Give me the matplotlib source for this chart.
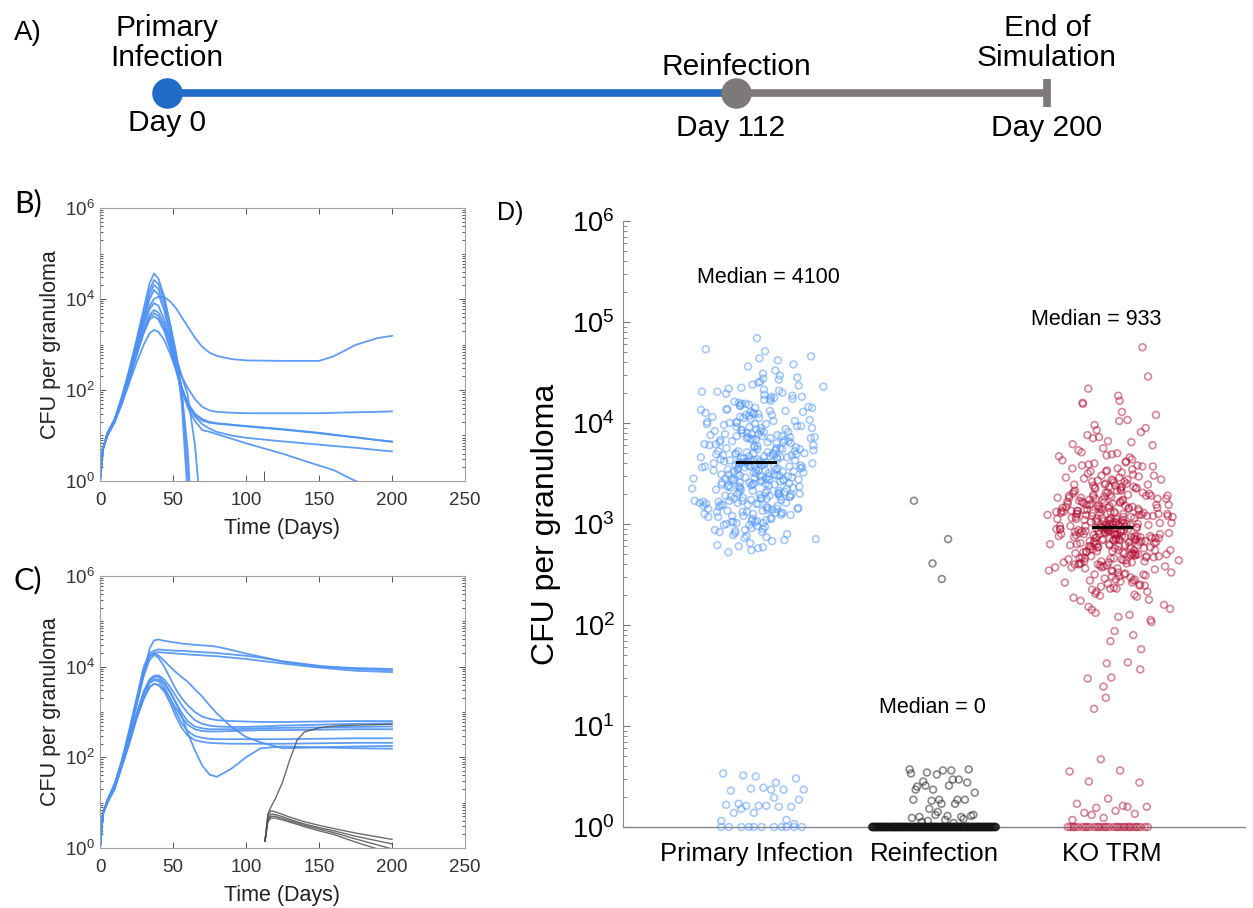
import numpy as np
import matplotlib
matplotlib.use("Agg")
import matplotlib.pyplot as plt
from matplotlib.ticker import FixedLocator, LogLocator, NullFormatter

plt.rcParams["font.family"] = ["Liberation Sans", "DejaVu Sans"]
plt.rcParams["mathtext.default"] = "regular"

# ---------------- panel A: timeline
event_labels = ["Primary\nInfection", "Reinfection", "End of\nSimulation"]
event_days = [0, 112, 200]

# ---------------- panel B: primary infection only (log10 CFU per granuloma)
time_b = [0, 2, 5, 10, 15, 20, 25, 30, 34, 37, 40, 44, 48, 52, 56, 60, 65, 70,
          75, 80, 90, 100, 125, 150, 160, 175, 190, 200]
cfu_b_log = [
    [0, 0.7, 1.05, 1.35, 1.85, 2.45, 3.1, 3.8, 4.35, 4.56, 4.45, 4.05, 3.45, 2.75, 1.7, -0.3,
     -3, -3, -3, -3, -3, -3, -3, -3, -3, -3, -3, -3],
    [0, 0.7, 1.0, 1.3, 1.8, 2.4, 3.05, 3.7, 4.2, 4.42, 4.33, 3.98, 3.45, 2.85, 2.0, 0.25, -2.5,
     -3, -3, -3, -3, -3, -3, -3, -3, -3, -3, -3],
    [0, 0.7, 1.05, 1.35, 1.85, 2.4, 3.0, 3.6, 4.1, 4.31, 4.22, 3.85, 3.3, 2.75, 2.3, 2.05, 1.8,
     1.63, 1.55, 1.52, 1.5, 1.49, 1.49, 1.49, 1.5, 1.51, 1.52, 1.53],
    [0, 0.7, 1.05, 1.35, 1.8, 2.35, 2.95, 3.55, 4.0, 4.2, 4.1, 3.75, 3.2, 2.6, 2.05, 1.7, 1.45,
     1.33, 1.28, 1.26, 1.23, 1.2, 1.13, 1.05, 1.01, 0.96, 0.9, 0.87],
    [0, 0.7, 1.05, 1.35, 1.8, 2.35, 2.95, 3.5, 3.85, 4.0, 4.05, 4.04, 3.95, 3.8, 3.6, 3.4, 3.15,
     2.95, 2.82, 2.75, 2.68, 2.65, 2.64, 2.64, 2.74, 2.99, 3.14, 3.19],
    [0, 0.7, 1.0, 1.3, 1.75, 2.3, 2.85, 3.4, 3.78, 3.91, 3.85, 3.55, 3.1, 2.55, 2.05, 1.72, 1.48,
     1.36, 1.3, 1.27, 1.24, 1.21, 1.14, 1.06, 1.02, 0.96, 0.9, 0.86],
    [0, 0.7, 1.0, 1.3, 1.75, 2.25, 2.8, 3.3, 3.65, 3.76, 3.7, 3.45, 3.05, 2.65, 2.3, 1.9, 0.8,
     -1.0, -3, -3, -3, -3, -3, -3, -3, -3, -3, -3],
    [0, 0.7, 1.0, 1.3, 1.75, 2.25, 2.8, 3.3, 3.6, 3.69, 3.62, 3.35, 2.95, 2.5, 2.05, 1.7, 1.42,
     1.25, 1.15, 1.08, 1.0, 0.95, 0.87, 0.8, 0.77, 0.73, 0.68, 0.65],
    [0, 0.7, 1.0, 1.3, 1.7, 2.2, 2.75, 3.25, 3.55, 3.62, 3.55, 3.3, 2.9, 2.45, 2.0, 1.62, 1.32,
     1.12, 1.08, 1.03, 0.93, 0.83, 0.6, 0.34, 0.24, 0.0, -0.15, -0.26],
    [0, 0.7, 1.0, 1.3, 1.7, 2.15, 2.6, 3.0, 3.25, 3.32, 3.28, 3.1, 2.8, 2.45, 1.95, 0.7, -2,
     -3, -3, -3, -3, -3, -3, -3, -3, -3, -3, -3],
]

# ---------------- panel C: primary infection + reinfection at day 112
time_c = [0, 2, 5, 10, 15, 20, 25, 30, 34, 37, 40, 44, 48, 52, 56, 60, 65, 70, 75, 80,
          90, 100, 110, 125, 150, 175, 200]
cfu_c_log = [
    [0, 0.75, 1.05, 1.4, 1.9, 2.5, 3.15, 3.85, 4.4, 4.58, 4.6, 4.57, 4.55, 4.53, 4.51, 4.5,
     4.48, 4.47, 4.46, 4.44, 4.37, 4.29, 4.22, 4.11, 4.0, 3.97, 3.95],
    [0, 0.75, 1.05, 1.4, 1.95, 2.6, 3.3, 4.0, 4.3, 4.35, 4.38, 4.37, 4.36, 4.35, 4.35, 4.34,
     4.33, 4.32, 4.31, 4.3, 4.27, 4.24, 4.2, 4.12, 4.02, 3.95, 3.92],
    [0, 0.75, 1.05, 1.4, 1.9, 2.55, 3.25, 3.95, 4.25, 4.3, 4.32, 4.31, 4.3, 4.29, 4.28, 4.27,
     4.26, 4.25, 4.24, 4.23, 4.2, 4.17, 4.13, 4.07, 3.98, 3.91, 3.88],
    [0, 0.75, 1.05, 1.4, 1.9, 2.5, 3.15, 3.8, 4.15, 4.26, 4.2, 4.0, 3.75, 3.5, 3.3, 3.15,
     3.0, 2.9, 2.85, 2.82, 2.8, 2.79, 2.78, 2.78, 2.79, 2.8, 2.8],
    [0, 0.75, 1.0, 1.35, 1.85, 2.4, 2.95, 3.45, 3.72, 3.8, 3.81, 3.72, 3.55, 3.35, 3.15, 2.98,
     2.82, 2.74, 2.7, 2.68, 2.67, 2.67, 2.68, 2.7, 2.72, 2.74, 2.75],
    [0, 0.75, 1.0, 1.35, 1.85, 2.35, 2.9, 3.4, 3.65, 3.72, 3.72, 3.62, 3.43, 3.2, 2.98, 2.8,
     2.68, 2.64, 2.62, 2.62, 2.62, 2.63, 2.64, 2.65, 2.66, 2.67, 2.68],
    [0, 0.75, 1.0, 1.3, 1.8, 2.3, 2.85, 3.3, 3.55, 3.62, 3.6, 3.5, 3.3, 3.08, 2.88, 2.72,
     2.62, 2.58, 2.57, 2.57, 2.58, 2.59, 2.6, 2.6, 2.61, 2.62, 2.62],
    [0, 0.75, 1.0, 1.35, 1.85, 2.35, 2.9, 3.4, 3.64, 3.7, 3.68, 3.55, 3.3, 3.0, 2.75, 2.58,
     2.47, 2.43, 2.41, 2.4, 2.4, 2.4, 2.4, 2.4, 2.41, 2.42, 2.42],
    [0, 0.75, 1.0, 1.3, 1.8, 2.3, 2.85, 3.3, 3.55, 3.62, 3.6, 3.45, 3.2, 2.9, 2.65, 2.48,
     2.38, 2.34, 2.32, 2.31, 2.3, 2.3, 2.3, 2.3, 2.31, 2.32, 2.32],
    [0, 0.75, 1.05, 1.4, 1.9, 2.55, 3.2, 3.9, 4.22, 4.3, 4.25, 4.13, 4.0, 3.88, 3.77, 3.67,
     3.5, 3.34, 3.15, 2.97, 2.67, 2.45, 2.33, 2.2, 2.22, 2.24, 2.25],
    [0, 0.75, 1.0, 1.35, 1.85, 2.4, 2.95, 3.45, 3.7, 3.77, 3.78, 3.65, 3.45, 3.2, 2.9, 2.55,
     2.15, 1.82, 1.62, 1.57, 1.75, 2.0, 2.2, 2.24, 2.22, 2.2, 2.19],
]
time_reinf = [113, 115, 117, 120, 125, 130, 135, 140, 150, 160, 175, 200]
cfu_reinf_log = [
    [0.15, 0.75, 0.9, 1.08, 1.45, 1.95, 2.38, 2.56, 2.65, 2.69, 2.71, 2.73],
    [0.15, 0.72, 0.82, 0.8, 0.74, 0.68, 0.63, 0.58, 0.5, 0.43, 0.33, 0.19],
    [0.15, 0.65, 0.75, 0.74, 0.69, 0.63, 0.58, 0.53, 0.45, 0.38, 0.26, 0.09],
    [0.15, 0.6, 0.7, 0.7, 0.65, 0.6, 0.55, 0.5, 0.42, 0.34, 0.2, -0.02],
    [0.15, 0.58, 0.66, 0.66, 0.62, 0.57, 0.52, 0.47, 0.38, 0.3, 0.13, -0.12],
]

# ---------------- panel D: CFU per granuloma at end of simulation (log10)
groups = ["Primary Infection", "Reinfection", "KO TRM"]
medians = [4100, 0, 933]

primary_high_log = [
    4.31, 3.72, 3.05, 3.88, 2.91, 3.47, 4.12, 3.26, 3.66, 4.58, 3.38, 3.15,
    3.52, 4.05, 2.84, 3.93, 3.21, 4.27, 3.63, 3.11, 3.44, 2.76, 3.81, 3.34,
    3.99, 3.29, 4.18, 3.57, 3.02, 4.84, 3.74, 3.41, 2.97, 3.86, 3.19, 3.68,
    3.36, 4.36, 3.09, 3.61, 3.91, 3.49, 2.88, 4.08, 3.23, 3.77, 4.47, 3.54,
    3.13, 3.83, 3.46, 4.22, 2.72, 3.70, 3.31, 4.01, 3.58, 3.17, 3.95, 3.28,
    4.14, 3.39, 3.64, 2.93, 4.41, 3.07, 3.85, 3.50, 4.29, 3.24, 3.75, 3.43,
    3.60, 3.12, 4.03, 3.33, 3.89, 2.81, 4.52, 3.55, 3.20, 3.79, 4.16, 3.45,
    2.99, 3.67, 4.25, 3.37, 3.03, 3.92, 3.48, 4.71, 3.27, 3.62, 4.10, 3.16,
    3.84, 3.53, 2.78, 4.33, 3.40, 3.71, 3.10, 3.97, 3.58, 4.06, 3.30, 2.95,
    3.47, 4.19, 3.22, 3.76, 3.63, 4.43, 3.01, 3.87, 3.35, 2.86, 3.56, 4.02,
    4.38, 3.18, 3.69, 3.42, 3.94, 3.08, 4.13, 3.52, 2.74, 3.80, 3.25, 4.64,
    3.32, 3.90, 3.14, 4.24, 3.57, 3.73, 2.89, 4.09, 3.44, 3.65, 3.04, 3.98,
    4.07, 3.49, 3.82, 2.98, 4.30, 3.36, 3.61, 3.19, 4.56, 3.70, 3.27, 3.54,
    3.11, 4.20, 3.59, 3.39, 3.85, 2.83, 4.00, 3.46, 3.75, 3.21, 4.49, 3.64,
    3.78, 3.06, 4.34, 3.51, 3.29, 3.96, 3.43, 2.92, 4.15, 3.67, 3.13, 3.84,
    3.55, 4.11, 3.26, 3.72, 4.66, 3.38, 3.00, 3.89, 3.48, 4.26, 3.62, 2.79,
    3.23, 3.81, 3.45, 4.04, 3.15, 3.58, 4.40, 3.34, 3.93, 2.87, 3.68, 3.41,
    3.99, 3.30, 3.74, 2.94, 4.17, 3.53, 3.09, 3.86, 4.73, 3.44, 3.20, 3.60,
    3.37, 4.23, 3.57, 3.12, 3.79, 4.45, 3.02, 3.66, 3.50, 2.77, 3.91, 4.08,
    3.18, 3.69, 3.40, 4.32, 3.87, 3.25, 2.90, 3.56, 4.12, 3.63, 3.33, 4.62,
    3.58, 3.92, 3.21, 4.05, 3.47, 3.75, 2.96, 3.66, 4.21, 3.35, 3.83, 3.12,
    3.71, 3.28, 4.11, 3.54, 3.02, 3.89, 3.43, 4.35, 3.17, 3.62, 3.96, 3.39,
    3.08, 3.77, 3.52, 4.17, 3.31, 3.68, 2.85, 4.02, 3.45, 3.94, 3.24, 3.59,
    4.28, 3.41, 3.86, 3.14, 3.63, 3.99, 3.27, 3.55, 4.44, 3.19, 3.73, 3.05,
    3.49, 4.09, 3.33, 3.70, 2.92, 3.81, 3.60, 4.24, 3.37, 3.10, 3.88, 3.51,
    3.95, 3.22, 3.65, 3.44, 4.13, 3.03, 3.78, 3.56, 3.29, 4.31, 3.61, 3.16,
    3.36, 3.84, 3.07, 3.97, 3.53, 3.69, 4.19, 3.25, 3.46, 2.99, 4.01, 3.74,
    3.64, 3.11, 4.06, 3.40, 3.80, 3.58, 3.20, 4.37, 3.50, 3.87, 3.32, 3.67,
    3.27, 3.90, 3.57, 3.15, 4.15, 3.42, 3.72, 3.01, 3.82, 3.61, 4.26, 3.38,
    3.76, 3.48, 4.00, 3.23, 3.66, 2.94, 3.85, 3.54, 4.10, 3.30, 3.70, 3.45,
]
primary_low_log = [0.50, 0.53, 0.44, 0.51, 0.48, 0.39, 0.36, 0.37, 0.38, 0.37, 0.37, 0.23,
                   0.20, 0.21, 0.22, 0.20, 0.21, 0.27, 0.21, 0.14, 0.07, 0.14, 0.06, 0.29,
                   0.18, 0.03]
primary_zero_n = 11

reinfection_high_log = [3.23, 2.85, 2.61, 2.455]
reinfection_low_log = [0.52, 0.53, 0.47, 0.54, 0.57, 0.56, 0.40, 0.47, 0.37, 0.34, 0.41, 0.45,
                       0.27, 0.27, 0.27, 0.23, 0.18, 0.11, 0.07, 0.10, 0.10, 0.12, 0.57, 0.56,
                       0.41, 0.44, 0.23, 0.37, 0.27, 0.26, 0.12, 0.11, 0.05, 0.08, 0.15, 0.09,
                       0.04, 0.06]
reinfection_zero_n = 250

kotrm_high_log = [
    3.05, 2.88, 3.31, 2.71, 3.52, 2.45, 3.91, 2.93, 3.12, 2.25, 3.68, 2.62, 3.24, 1.94,
    2.82, 3.18, 2.57, 3.39, 2.99, 2.76, 4.34, 2.91, 3.47, 2.33, 3.02, 2.68, 3.27, 2.10,
    3.14, 2.73, 3.58, 2.86, 3.21, 2.49, 3.75, 2.95, 3.09, 2.64, 3.36, 1.17, 4.02, 2.80,
    2.97, 3.44, 2.66, 3.29, 2.84, 3.85, 2.52, 3.07, 2.38, 3.62, 2.90, 3.16, 2.74, 2.15,
    3.33, 2.60, 3.10, 2.87, 4.20, 2.41, 3.49, 2.78, 3.01, 2.27, 3.25, 2.94, 3.71, 1.62,
    2.70, 3.19, 2.89, 3.55, 2.58, 3.04, 2.81, 3.40, 2.47, 4.08, 2.96, 3.13, 2.20, 2.65,
    3.23, 2.92, 3.66, 2.55, 3.00, 2.79, 3.35, 2.43, 3.95, 2.85, 3.11, 2.67, 1.48, 3.28,
    2.83, 3.46, 2.63, 3.06, 2.98, 3.78, 2.36, 3.20, 2.75, 4.27, 2.50, 3.15, 2.88, 2.03,
    3.37, 2.69, 3.08, 2.90, 3.57, 2.29, 3.26, 2.77, 3.82, 2.44, 3.02, 2.86, 1.76, 3.17,
    2.95, 3.30, 2.59, 3.64, 2.83, 3.11, 2.40, 3.43, 2.72, 4.46, 2.91, 3.07, 2.18, 2.66,
    3.09, 2.87, 3.51, 2.61, 3.22, 2.78, 3.88, 2.53, 3.00, 2.31, 3.34, 2.94, 1.39, 3.15,
    2.73, 3.27, 2.96, 3.60, 2.48, 3.13, 2.84, 4.03, 2.56, 3.04, 2.69, 3.38, 2.08, 2.89,
    3.19, 2.64, 3.45, 2.80, 3.06, 2.35, 3.70, 2.92, 3.28, 2.51, 4.19, 2.97, 1.90, 3.10,
    2.85, 3.32, 2.70, 3.01, 2.93, 3.53, 2.42, 3.16, 2.76, 3.79, 2.60, 3.24, 2.24, 1.28,
    3.12, 2.82, 3.41, 2.57, 3.93, 2.88, 3.08, 2.46, 3.63, 2.74, 3.20, 2.98, 2.12, 3.36,
    2.67, 3.03, 2.90, 3.48, 2.54, 3.26, 2.81, 4.22, 2.39, 3.14, 2.95, 3.57, 1.84, 2.71,
    3.29, 2.78, 3.11, 2.63, 3.67, 2.86, 3.00, 2.30, 3.42, 2.89, 4.75, 2.59, 3.18, 2.05,
    2.92, 3.37, 2.68, 3.05, 2.83, 3.86, 2.50, 3.22, 2.96, 3.54, 2.44, 3.09, 1.56, 2.77,
    3.07, 2.61, 3.31, 2.87, 3.59, 2.37, 3.13, 2.80, 4.11, 2.66, 3.39, 2.99, 1.47, 3.02,
    2.79, 3.25, 2.93, 3.73, 2.52, 3.16, 2.72, 3.44, 2.28, 3.98, 2.84, 3.10, 2.16, 1.63,
    2.98, 3.12, 2.85, 3.27, 2.74, 3.05, 2.91, 3.40, 2.63, 3.18, 2.88, 3.01, 2.56, 3.33,
    3.08, 2.79, 3.21, 2.94, 3.46, 2.68, 3.02, 2.87, 3.15, 2.71, 3.58, 2.96, 2.42, 3.25,
    2.90, 3.30, 2.77, 3.10, 2.99, 3.52, 2.62, 3.19, 2.84, 3.06, 2.73, 3.37, 2.33, 2.95,
    3.16, 2.86, 3.43, 2.70, 3.03, 2.92, 3.28, 2.58, 3.13, 2.81, 3.69, 2.97, 2.50, 3.22,
    2.83, 3.24, 2.95, 3.08, 2.66, 3.35, 2.89, 3.00, 2.76, 3.48, 2.61, 3.14, 2.93, 2.45,
    3.11, 2.80, 3.31, 2.97, 3.61, 2.72, 3.04, 2.86, 3.20, 2.54, 3.09, 2.90, 3.42, 2.67,
    2.94, 3.17, 2.75, 3.38, 2.87, 3.02, 2.64, 3.26, 2.99, 3.81, 2.78, 3.12, 2.39, 3.05,
    3.23, 2.91, 3.07, 2.69, 3.50, 2.84, 3.15, 2.96, 3.33, 2.60, 3.01, 2.82, 3.19, 2.48,
    2.88, 3.36, 2.98, 3.13, 2.74, 3.29, 2.93, 3.06, 2.65, 3.44, 2.85, 3.10, 2.57, 3.00,
    3.04, 2.79, 3.22, 2.90, 3.55, 2.71, 3.11, 2.97, 3.28, 2.62, 3.17, 2.86, 2.36, 3.39,
]
kotrm_low_log = [0.67, 0.55, 0.56, 0.45, 0.44, 0.28, 0.23, 0.20, 0.19, 0.20, 0.16, 0.14,
                 0.13, 0.09, 0.07, 0.21, 0.12]
kotrm_zero_n = 30

# ---------------- styles
W, H = 1253, 908
TL_BLUE = "#1f6bc6"
TL_GRAY = "#7d7979"
LINE_BLUE = (0.30, 0.57, 0.96)
PT_COLORS = [(0.30, 0.58, 0.98), (0.08, 0.08, 0.08), (0.70, 0.06, 0.20)]


def px_axes(fig, left, top, right, bottom):
    return fig.add_axes([left / W, 1 - bottom / H, (right - left) / W, (bottom - top) / H])


def jitter(n, half, phase=0.0):
    # evenly spread offsets in [-half, half]
    k = np.arange(n)
    return ((k * 0.6180339887 + phase) % 1.0 - 0.5) * 2 * half


def jitter_peaked(n, half, phase=0.0):
    # offsets denser near the centre, reaching +-half at most
    k = np.arange(n)
    u1 = (k * 0.6180339887 + phase) % 1.0
    u2 = (k * 0.7548776662 + 0.5 * phase) % 1.0
    return (u1 + u2 - 1.0) * half


def style_timecourse(ax):
    ax.set_yscale("log")
    ax.set_xlim(0, 250)
    ax.set_ylim(1, 1e6)
    ax.set_xticks([0, 50, 100, 150, 200, 250])
    ax.yaxis.set_major_locator(FixedLocator([1, 1e2, 1e4, 1e6]))
    ax.yaxis.set_minor_locator(LogLocator(base=10, subs=np.arange(1, 10), numticks=30))
    ax.yaxis.set_minor_formatter(NullFormatter())
    ax.tick_params(which="both", direction="in", top=True, right=True, colors="#555555",
                   labelcolor="#333333", labelsize=13.5, width=0.7)
    ax.tick_params(which="major", length=4)
    ax.tick_params(which="minor", length=2)
    ax.tick_params(axis="x", pad=8)
    for s in ax.spines.values():
        s.set_color("#a0a0a0")
        s.set_linewidth(0.8)
    ax.set_ylabel("CFU per granuloma", fontsize=15.5, color="#222222")
    ax.set_xlabel("Time (Days)", fontsize=15.5, color="#222222")
    ax.yaxis.set_label_coords(-0.108, 0.5)
    ax.xaxis.set_label_coords(0.5, -0.136)


fig = plt.figure(figsize=(W / 100, H / 100), dpi=100)

# ---- A
axA = px_axes(fig, 167, 0, 1047, 150)
axA.set_xlim(0, 1)
axA.set_ylim(0, 1)
axA.axis("off")
event_x = [0.0, 0.647, 1.0]
line_y = 1 - 93 / 150
axA.plot(event_x[:2], [line_y, line_y], color=TL_BLUE, lw=5.5, solid_capstyle="butt", clip_on=False)
axA.plot(event_x[1:], [line_y, line_y], color=TL_GRAY, lw=5.5, solid_capstyle="butt", clip_on=False)
axA.plot(event_x[0], line_y, "o", ms=21, color=TL_BLUE, clip_on=False)
axA.plot(event_x[1], line_y, "o", ms=21, color=TL_GRAY, clip_on=False)
axA.plot(event_x[2], line_y, marker="|", ms=20, mew=5.5, color=TL_GRAY, clip_on=False)
label_y = [1 - 43 / 150, 1 - 67 / 150, 1 - 43 / 150]
day_y = [1 - 123 / 150, 1 - 128 / 150, 1 - 128 / 150]
day_x = [0.0, 0.64, 1.0]
for lab, d, x, ly, dy, dx in zip(event_labels, event_days, event_x, label_y, day_y, day_x):
    axA.text(x, ly, lab, ha="center", va="center", fontsize=21.5, linespacing=1.12)
    axA.text(dx, dy, f"Day {d}", ha="center", va="center", fontsize=21.5)
fig.text(28 / W, 1 - 33 / H, "A)", ha="center", va="center", fontsize=20)

# ---- B
axB = px_axes(fig, 100, 208, 465, 481)
for ys in cfu_b_log:
    axB.plot(time_b, 10 ** np.array(ys), color=LINE_BLUE, lw=1.3, alpha=0.9)
style_timecourse(axB)
axB.set_xticks([event_days[1]], minor=True)
axB.tick_params(axis="x", which="minor", length=7, top=False)
fig.text(28 / W, 1 - 203 / H, "B)", ha="center", va="center", fontsize=22,
         family=["Lato", "DejaVu Sans"])

# ---- C
axC = px_axes(fig, 100, 576, 465, 848)
for ys in cfu_c_log:
    axC.plot(time_c, 10 ** np.array(ys), color=LINE_BLUE, lw=1.3, alpha=0.9)
for ys in cfu_reinf_log:
    axC.plot(time_reinf, 10 ** np.array(ys), color=(0.32, 0.32, 0.32), lw=1.0, alpha=0.85)
style_timecourse(axC)
fig.text(28 / W, 1 - 580 / H, "C)", ha="center", va="center", fontsize=22,
         family=["Lato", "DejaVu Sans"])

# ---- D
axD = px_axes(fig, 623, 221, 1245, 827)
axD.set_yscale("log")
axD.set_xlim(0.25, 3.75)
axD.set_ylim(1, 1e6)

high = [primary_high_log, reinfection_high_log, kotrm_high_log]
low = [primary_low_log, reinfection_low_log, kotrm_low_log]
zeros = [primary_zero_n, reinfection_zero_n, kotrm_zero_n]
high_half = [0.38, 0.14, 0.38]
low_half = [0.24, 0.19, 0.23]
low_shift = [0.04, 0.05, -0.02]
zero_half = [0.24, 0.35, 0.23]
zero_shift = [0.04, 0.0, -0.02]
for i, (hi, lo, nz) in enumerate(zip(high, low, zeros)):
    pos = i + 1
    xs = np.concatenate([pos + jitter_peaked(len(hi), high_half[i], 0.13),
                         pos + low_shift[i] + jitter(len(lo), low_half[i], 0.41),
                         pos + zero_shift[i] + jitter(nz, zero_half[i], 0.77)])
    ys = np.concatenate([10 ** np.array(hi), 10 ** np.array(lo), np.ones(nz)])
    axD.scatter(xs, ys, s=24, facecolors="none", edgecolors=[PT_COLORS[i]], linewidths=1.2,
                alpha=0.5, clip_on=False, zorder=3)
    if medians[i] > 0:
        axD.plot([pos - 0.107, pos + 0.107], [medians[i], medians[i]], color="black", lw=2.2,
                 zorder=5)

median_text_xy = [(1.07, 10 ** 5.44), (1.99, 10 ** 1.18), (2.91, 10 ** 5.02)]
for m, (tx, ty) in zip(medians, median_text_xy):
    axD.text(tx, ty, f"Median = {m}", ha="center", va="center", fontsize=15.5)

axD.set_xticks([1, 2, 3])
axD.set_xticklabels(groups, fontsize=18.5)
axD.tick_params(axis="x", length=0, pad=11)
axD.yaxis.set_major_locator(LogLocator(base=10, numticks=10))
axD.yaxis.set_minor_locator(LogLocator(base=10, subs=np.arange(2, 10), numticks=30))
axD.yaxis.set_minor_formatter(NullFormatter())
axD.tick_params(axis="y", which="both", direction="in", colors="#777777", labelcolor="black",
                labelsize=19.5, pad=6)
axD.tick_params(axis="y", which="major", length=5, width=0.8)
axD.tick_params(axis="y", which="minor", length=3, width=0.6)
axD.spines["top"].set_visible(False)
axD.spines["right"].set_visible(False)
axD.spines["left"].set_color("#888888")
axD.spines["bottom"].set_color("#888888")
axD.spines["left"].set_linewidth(0.8)
axD.spines["bottom"].set_linewidth(1.0)
axD.set_ylabel("CFU per granuloma", fontsize=23)
axD.yaxis.set_label_coords(-0.100, 0.5)
fig.text(510 / W, 1 - 213 / H, "D)", ha="center", va="center", fontsize=18)

fig.savefig("out.png", dpi=100)
